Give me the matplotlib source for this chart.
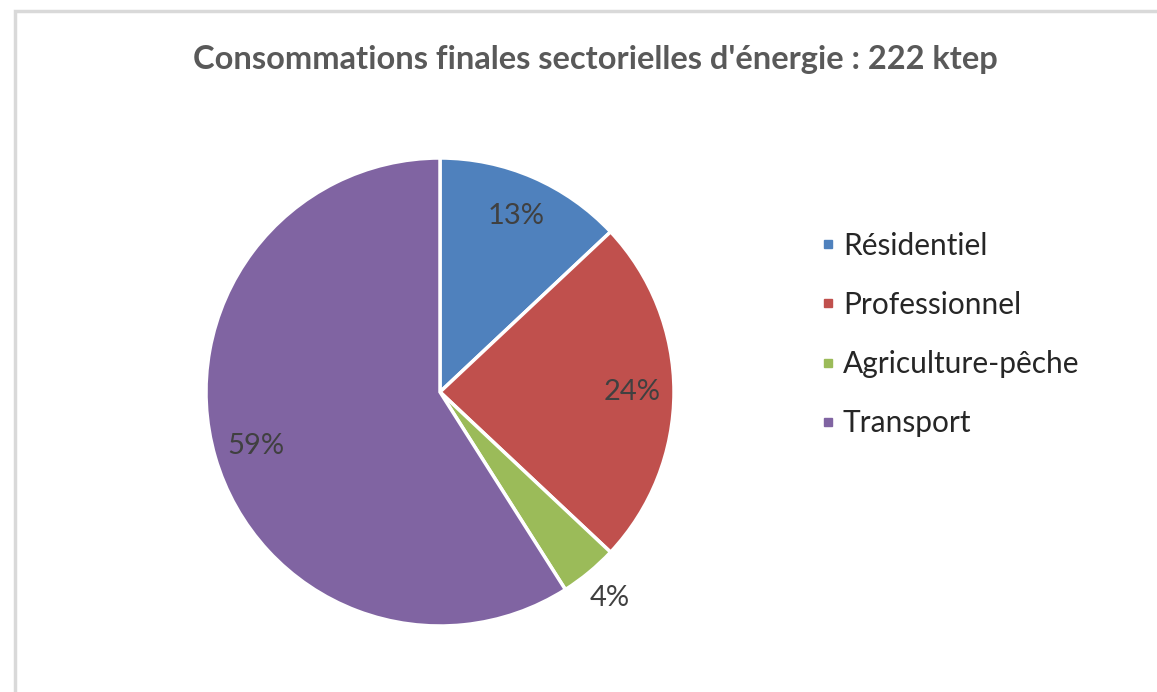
import matplotlib.pyplot as plt
import numpy as np
from matplotlib.patches import Rectangle
from matplotlib.lines import Line2D

sectors = ["Résidentiel", "Professionnel", "Agriculture-pêche", "Transport"]
shares = [13, 24, 4, 59]
colors = ["#4F81BD", "#C0504D", "#9BBB59", "#8064A2"]
title = "Consommations finales sectorielles d'énergie : 222 ktep"

plt.rcParams["font.family"] = ["Lato", "DejaVu Sans"]

W, H = 1157, 692
fig = plt.figure(figsize=(W / 100, H / 100), dpi=100)

# light chart-area frame (left and top edges visible)
fig.patches.append(Rectangle((15 / W, -0.05), 1.2, 1 - 11 / H + 0.05,
                             transform=fig.transFigure, fill=False,
                             edgecolor="#d9d9d9", linewidth=2.5))

fig.text(595 / W, 1 - 60 / H, title, ha="center", va="center",
         fontsize=23.5, fontweight="bold", color="#595959")

ax = fig.add_axes([(440 - 234) / W, (300 - 234) / H, 468 / W, 468 / H])
wedges, texts, autotexts = ax.pie(
    shares, colors=colors, startangle=90, counterclock=False, radius=1,
    autopct=lambda p: f"{p:.0f}%", pctdistance=0.82,
    wedgeprops=dict(edgecolor="white", linewidth=2.5),
    textprops=dict(fontsize=21, color="#404040"))

# small slice label sits outside the pie
for w, t, v in zip(wedges, autotexts, shares):
    if v < 6:
        ang = np.deg2rad((w.theta1 + w.theta2) / 2)
        t.set_position((1.14 * np.cos(ang), 1.14 * np.sin(ang)))
ax.set_xlim(-1, 1)
ax.set_ylim(-1, 1)
ax.set_aspect("equal")
ax.axis("off")

handles = [Line2D([], [], marker="s", linestyle="", markersize=6,
                  markerfacecolor=c, markeredgecolor=c) for c in colors]
fig.legend(handles, sectors, loc="upper left",
           bbox_to_anchor=(792 / W, 1 - 205 / H), frameon=False,
           fontsize=21.5, labelspacing=1.04, handletextpad=0.2,
           handlelength=0.6, labelcolor="#262626")

fig.savefig("out.png", dpi=100, facecolor="white")
